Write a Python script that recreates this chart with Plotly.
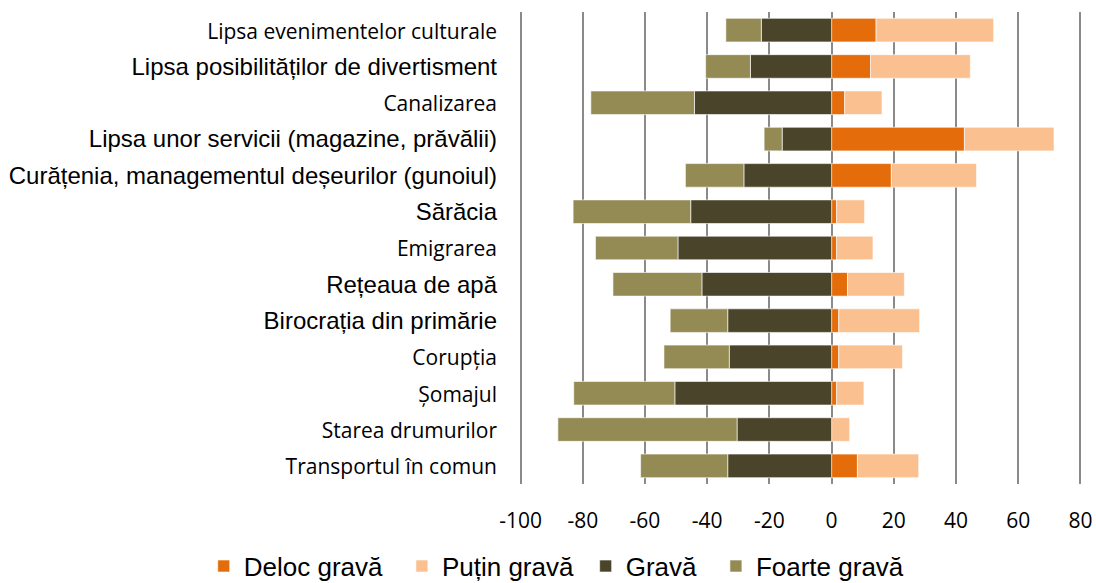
import plotly.graph_objects as go

categories = [
    "Lipsa evenimentelor culturale",
    "Lipsa posibilităților de divertisment",
    "Canalizarea",
    "Lipsa unor servicii (magazine, prăvălii)",
    "Curățenia, managementul deșeurilor (gunoiul)",
    "Sărăcia",
    "Emigrarea",
    "Rețeaua de apă",
    "Birocrația din primărie",
    "Corupția",
    "Șomajul",
    "Starea drumurilor",
    "Transportul în comun",
]
# which labels use the smaller (Calibri-like) font in the original
small_label = [True, False, True, False, False, False, True, False, False, True, True, True, True]

series_names = ["Deloc gravă", "Puțin gravă", "Gravă", "Foarte gravă"]
deloc = [14.3, 12.5, 4.2, 42.7, 19.2, 1.6, 1.6, 5.1, 2.3, 2.3, 1.6, 0.0, 8.3]
putin = [37.8, 32.1, 12.0, 28.8, 27.4, 9.0, 11.7, 18.3, 26.0, 20.5, 8.8, 5.8, 19.7]
grava = [22.6, 26.1, 44.1, 15.9, 28.2, 45.3, 49.4, 41.7, 33.4, 32.9, 50.4, 30.4, 33.4]
foarte = [11.4, 14.4, 33.3, 5.8, 18.8, 37.8, 26.5, 28.6, 18.5, 21.0, 32.5, 57.6, 28.0]

x_ticks = [-100, -80, -60, -40, -20, 0, 20, 40, 60, 80]

colors = ["#E46C0A", "#FAC090", "#4A452A", "#948A54"]
signs = [1, 1, -1, -1]
legend_pad = [2, 1, 2, 0]  # trailing non-breaking spaces to widen legend gaps

ticktext = [
    (f'<span style="font-family:Open Sans;font-size:21px">{c}</span>' if s else c)
    for c, s in zip(categories, small_label)
]

fig = go.Figure()
for name, vals, sign, col, pad in zip(series_names, [deloc, putin, grava, foarte], signs, colors, legend_pad):
    fig.add_trace(go.Bar(
        y=categories,
        x=[sign * v for v in vals],
        name=name + "\u00a0" * pad,
        orientation="h",
        marker=dict(color=col, line=dict(color="rgba(255,255,255,0.6)", width=1)),
        hovertemplate=name + ": %{x}<extra></extra>",
    ))

fig.update_layout(
    width=1096, height=583,
    barmode="relative",
    bargap=0.35,
    plot_bgcolor="white",
    paper_bgcolor="white",
    margin=dict(l=519, r=14, t=12, b=99, autoexpand=False),
    font=dict(family="Liberation Sans, Arial", color="#000000"),
    legend=dict(
        orientation="h",
        x=-0.56, xanchor="left",
        y=-0.174, yanchor="middle",
        font=dict(family="Liberation Sans, Arial", size=26, color="#000000"),
        traceorder="normal",
        itemclick=False,
    ),
    showlegend=True,
)
fig.update_xaxes(
    range=[-100.5, 80.5],
    tickvals=x_ticks,
    ticktext=[str(v) for v in x_ticks],
    tickfont=dict(family="Open Sans", size=21, color="#000000"),
    showgrid=True,
    gridcolor="#8a8a8a",
    gridwidth=1.5,
    zeroline=True,
    zerolinecolor="#8a8a8a",
    zerolinewidth=1.5,
    showline=False,
    ticks="",
    ticklabelstandoff=22,
    automargin=False,
)
fig.update_yaxes(
    categoryorder="array",
    categoryarray=categories,
    autorange="reversed",
    tickvals=categories,
    ticktext=ticktext,
    tickfont=dict(family="Liberation Sans, Arial", size=24, color="#000000"),
    showgrid=False,
    ticks="",
    ticklabelstandoff=21,
    automargin=False,
)

fig.write_html(
    "out.html",
    config={"displayModeBar": False},
    post_script="document.body.style.margin='0';document.body.style.overflow='hidden';",
)
